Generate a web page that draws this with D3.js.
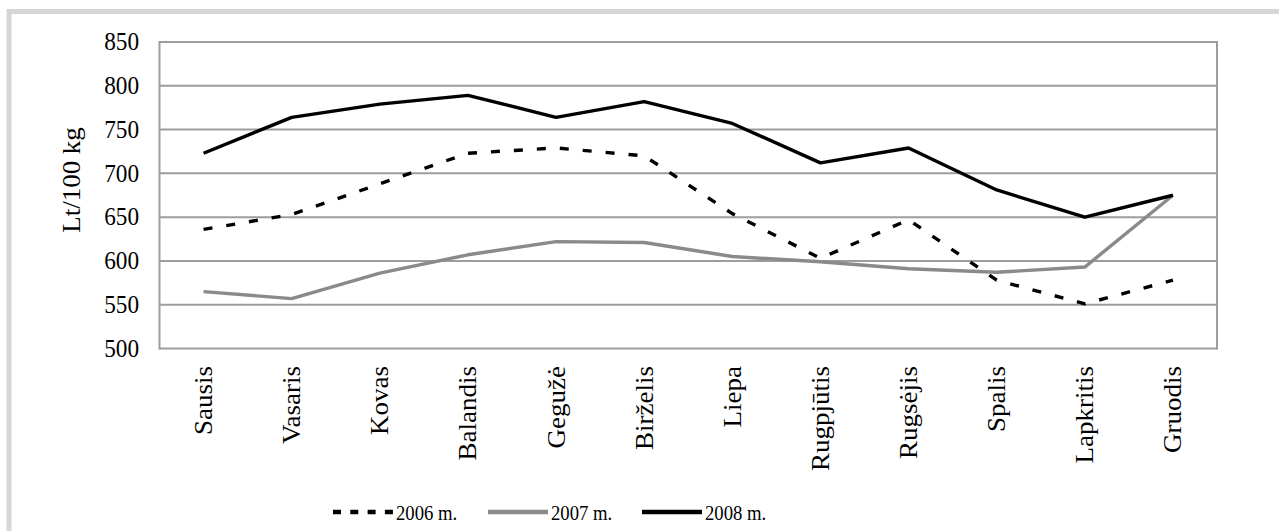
<!DOCTYPE html>
<html>
<head>
<meta charset="utf-8">
<script src="https://cdn.jsdelivr.net/npm/d3@7"></script>
<style>
  html, body { margin: 0; padding: 0; background: #fff; }
  svg { display: block; }
</style>
</head>
<body>
<svg id="chart" width="1279" height="531"></svg>
<script>
const months = ["Sausis","Vasaris","Kovas","Balandis","Gegužė","Birželis","Liepa","Rugpjūtis","Rugsėjis","Spalis","Lapkritis","Gruodis"];
const values2006 = [636, 653, 688, 723, 729, 720, 654, 603, 647, 578, 551, 578];
const values2007 = [565, 557, 586, 607, 622, 621, 605, 599, 591, 587, 593, 675];
const values2008 = [723, 764, 779, 789, 764, 782, 757, 712, 729, 681, 650, 675];
const seriesNames = ["2006 m.", "2007 m.", "2008 m."];
const yTicks = [500, 550, 600, 650, 700, 750, 800, 850];
const yTitle = "Lt/100 kg";

(function () {
const FONT = "'Liberation Serif', 'Times New Roman', Times, 'DejaVu Serif', serif";
const svg = d3.select("#chart");

// outer frame
svg.append("rect").attr("x", 9).attr("y", 11.5).attr("width", 1300).attr("height", 560)
  .attr("fill", "none").attr("stroke", "#d6d6d6").attr("stroke-width", 5);

const pLeft = 159.5, pRight = 1217, pTop = 42, pBottom = 348.5;
const x = d3.scalePoint().domain(months).range([pLeft, pRight]).padding(0.5);
const y = d3.scaleLinear().domain([500, 850]).range([pBottom, pTop]);

// gridlines
svg.append("g").selectAll("line").data(yTicks).join("line")
  .attr("x1", pLeft).attr("x2", pRight)
  .attr("y1", d => y(d)).attr("y2", d => y(d))
  .attr("stroke", "#9d9d9d").attr("stroke-width", 2);

// plot border (left and right)
svg.append("line").attr("x1", pLeft).attr("x2", pLeft).attr("y1", pTop - 1).attr("y2", pBottom + 1)
  .attr("stroke", "#9d9d9d").attr("stroke-width", 2);
svg.append("line").attr("x1", pRight).attr("x2", pRight).attr("y1", pTop - 1).attr("y2", pBottom + 1)
  .attr("stroke", "#9d9d9d").attr("stroke-width", 2);

// y tick labels
svg.append("g").selectAll("text").data(yTicks).join("text")
  .attr("transform", d => `translate(139,${y(d)}) scale(0.93,1)`)
  .attr("text-anchor", "end").attr("dy", "0.33em")
  .attr("font-family", FONT).attr("font-size", 25)
  .text(d => d);

// y title
svg.append("text")
  .attr("transform", `translate(80,180) rotate(-90) scale(1,0.93)`)
  .attr("text-anchor", "middle")
  .attr("font-family", FONT).attr("font-size", 27)
  .text(yTitle);

// category labels
svg.append("g").selectAll("text").data(months).join("text")
  .attr("transform", d => `translate(${x(d)},366) rotate(-90) scale(1,0.95)`)
  .attr("text-anchor", "end").attr("dy", "0.33em")
  .attr("font-family", FONT).attr("font-size", 27)
  .text(d => d);

// lines
const line = d3.line().x((d, i) => x(months[i])).y(d => y(d));
const styles = [
  { data: values2006, color: "#000", width: 3.4, dash: "9,14" },
  { data: values2007, color: "#8a8a8a", width: 3.4, dash: null },
  { data: values2008, color: "#000", width: 3.4, dash: null }
];
styles.forEach(s => {
  svg.append("path").datum(s.data)
    .attr("d", line)
    .attr("fill", "none")
    .attr("stroke", s.color)
    .attr("stroke-width", s.width)
    .attr("stroke-linejoin", "round")
    .attr("stroke-dasharray", s.dash);
});

// legend
const legendX = [333, 488, 642];
const legend = svg.append("g");
seriesNames.forEach((name, i) => {
  const s = styles[i];
  legend.append("line")
    .attr("x1", legendX[i]).attr("x2", legendX[i] + 60)
    .attr("y1", 512).attr("y2", 512)
    .attr("stroke", s.color).attr("stroke-width", 4.5)
    .attr("stroke-dasharray", s.dash ? "8,9.3" : null);
  legend.append("text")
    .attr("transform", `translate(${legendX[i] + 63},512) scale(0.85,1)`)
    .attr("dy", "0.35em")
    .attr("font-family", FONT).attr("font-size", 22)
    .text(name);
});
})();
</script>
</body>
</html>
